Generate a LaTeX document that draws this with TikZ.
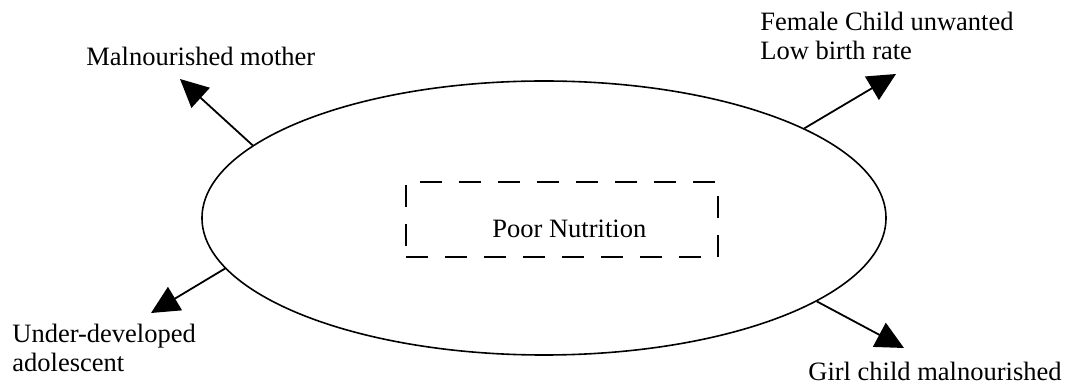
\documentclass[tikz,border=0pt]{standalone}
\usepackage{fontspec}
\setmainfont{Liberation Serif}
\usetikzlibrary{arrows.meta,shapes.geometric}
\tikzset{
	pointer/.style={line width=0.9pt,-{Triangle[length=14pt,width=13.5pt]}},
	dashbox/.style={draw,dash pattern=on 11pt off 8.5pt,line width=1.4pt,minimum width=156pt,minimum height=37.5pt,inner sep=0pt},
	lbl/.style={inner sep=0pt,align=left}
}
\begin{document}
\begin{tikzpicture}[x=0.5pt,y=-0.5pt,font=\fontsize{13.25pt}{14.8pt}\selectfont,line join=round]
	\useasboundingbox (0,0) rectangle (1071,384);
	% ellipse and box
	\node[draw,ellipse,line width=0.8pt,minimum width=342pt,minimum height=137pt,inner sep=0pt] (nutr) at (544,218) {};
	\node[dashbox] (box) at (562,219.5) {};
	\node[lbl,anchor=base west] (poor) at (492,238) {Poor Nutrition};
	% arrow tips
	\coordinate (tipM) at (180,79);
	\coordinate (tipF) at (896,74);
	\coordinate (tipU) at (151,313);
	\coordinate (tipG) at (904,348);
	\draw[pointer] (nutr.166.7) -- (tipM);
	\draw[pointer] (nutr.19.4) -- (tipF);
	\draw[pointer] (nutr.189.5) -- (tipU);
	\draw[pointer] (nutr.343.8) -- (tipG);
	% labels (base = last line)
	\node[lbl,anchor=base west] (mother) at (86,66) {Malnourished mother};
	\node[lbl,anchor=base west] (female) at (760,60) {Female Child unwanted\\Low birth rate};
	\node[lbl,anchor=base west] (under) at (12,372) {Under-developed\\adolescent};
	\node[lbl,anchor=base west] (girl) at (808,381) {Girl child malnourished};
\end{tikzpicture}
\end{document}
